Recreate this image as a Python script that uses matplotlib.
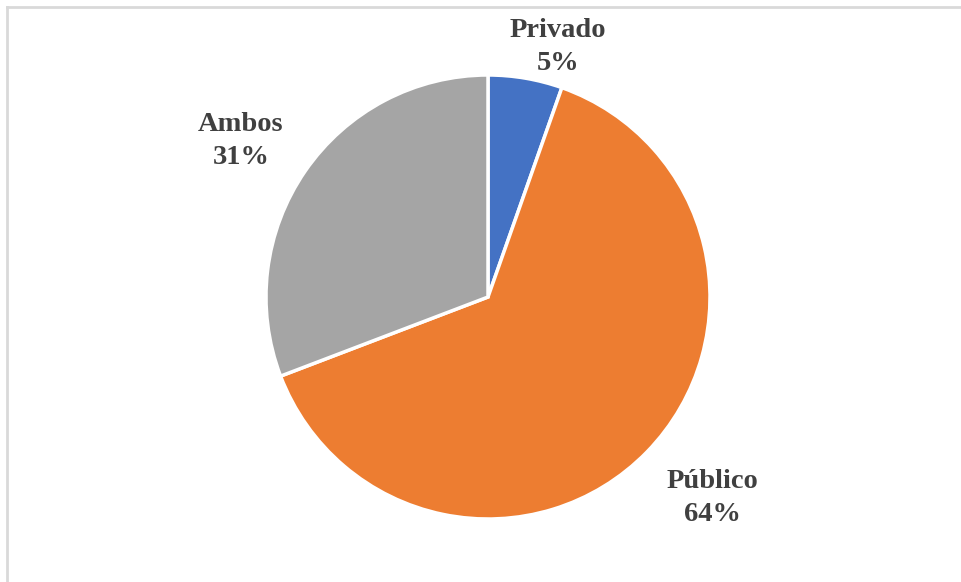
import matplotlib.pyplot as plt
from matplotlib.lines import Line2D

labels = ["Privado", "Público", "Ambos"]
values = [5.4, 63.8, 30.8]
colors = ["#4472C4", "#ED7D31", "#A5A5A5"]

fig = plt.figure(figsize=(9.61, 5.82), dpi=100)
ax = fig.add_axes([0, 0, 1, 1])
ax.set_xlim(0, 961)
ax.set_ylim(0, 582)
ax.set_aspect("equal")
ax.axis("off")

ax.pie(values, colors=colors, startangle=90, counterclock=False,
       center=(488, 285), radius=222,
       wedgeprops=dict(edgecolor="white", linewidth=2.5))
ax.set_xlim(0, 961)
ax.set_ylim(0, 582)

# label positions (pixel coords, y up)
label_pos = [(558, 535), (712, 84), (241, 441)]
for lab, val, (x, y) in zip(labels, values, label_pos):
    ax.text(x, y, f"{lab}\n{round(val)}%", ha="center", va="center",
            fontsize=20.5, fontweight="bold", family="Liberation Serif",
            color="#404040", linespacing=1.4)

# frame lines (top and left only)
fig.add_artist(Line2D([7/961, 1], [1 - 7/582, 1 - 7/582], color="#d9d9d9", lw=2,
                      transform=fig.transFigure))
fig.add_artist(Line2D([7/961, 7/961], [0, 1 - 7/582], color="#d9d9d9", lw=2,
                      transform=fig.transFigure))

fig.savefig("out.png", dpi=100)
